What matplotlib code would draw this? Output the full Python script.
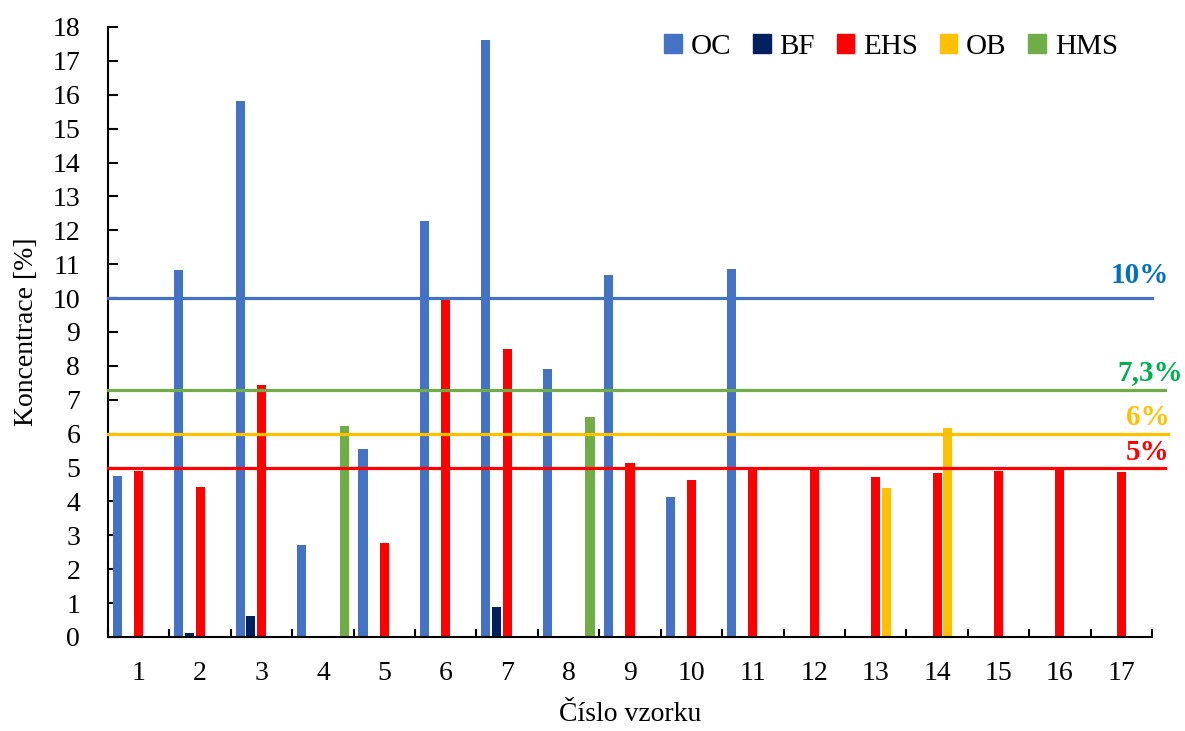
import numpy as np
import matplotlib
matplotlib.use("Agg")
import matplotlib.pyplot as plt
from matplotlib.patches import Patch
import matplotlib.transforms as mtransforms

plt.rcParams['font.family'] = ['Liberation Serif', 'DejaVu Serif']

# sample numbers on x axis
vzorky = list(range(1, 18))

# concentrations [%] per sample, 0 = not present
oc = [4.75, 10.83, 15.81, 2.71, 5.54, 12.27, 17.63, 7.90, 10.67, 4.12, 10.85, 0, 0, 0, 0, 0, 0]
bf = [0, 0.11, 0.63, 0, 0, 0, 0.88, 0, 0, 0, 0, 0, 0, 0, 0, 0, 0]
ehs = [4.90, 4.43, 7.43, 0, 2.78, 9.95, 8.50, 0, 5.12, 4.62, 4.94, 5.00, 4.71, 4.84, 4.90, 5.00, 4.86]
ob = [0, 0, 0, 0, 0, 0, 0, 0, 0, 0, 0, 0, 4.39, 6.17, 0, 0, 0]
hms = [0, 0, 0, 6.24, 0, 0, 0, 6.49, 0, 0, 0, 0, 0, 0, 0, 0, 0]

series_names = ['OC', 'BF', 'EHS', 'OB', 'HMS']
series_colors = ['#4472C4', '#002060', '#FF0000', '#FFC000', '#70AD47']

# limit values
limity = [10, 7.3, 6, 5]
limity_text = ['10%', '7,3%', '6%', '5%']
limity_line_colors = ['#4472C4', '#70AD47', '#FFC000', '#FF0000']
limity_text_colors = ['#0070C0', '#00B050', '#FFC000', '#FF0000']

fig = plt.figure(figsize=(11.85, 7.31), dpi=100)
ax = fig.add_axes([0.0911, 0.1286, 0.8811, 0.8345])

x = np.array(vzorky, dtype=float)
slot = 0.174
bar_w = 0.148
for i, (vals, col) in enumerate(zip([oc, bf, ehs, ob, hms], series_colors)):
    ax.bar(x + (i - 2) * slot, vals, width=bar_w, color=col, zorder=2)

# horizontal limit lines with labels on the right
blend = mtransforms.blended_transform_factory(ax.transAxes, ax.transData)
line_ends = [1.0, 1.012, 1.015, 1.012]
text_x = [1.016, 1.03, 1.017, 1.017]
text_dy = [0.46, 0.28, 0.25, 0.22]
for val, lab, lc, tc, xe, tx, dy in zip(limity, limity_text, limity_line_colors,
                                         limity_text_colors, line_ends, text_x, text_dy):
    ax.axhline(val, xmin=0, xmax=xe, color=lc, lw=2.3, zorder=3, clip_on=False)
    ax.text(tx, val + dy, lab, transform=blend, ha='right', va='baseline',
            color=tc, fontsize=21, fontweight='bold')

ax.set_xlim(0.5, 17.5)
ax.set_ylim(0, 18)
ax.set_yticks(range(0, 19))
ax.set_xticks(x)
ax.set_xticklabels([str(v) for v in vzorky])
ax.set_xticks(np.arange(0.5, 18, 1), minor=True)

ax.tick_params(axis='x', which='major', length=0, pad=17, labelsize=20)
ax.tick_params(axis='x', which='minor', direction='in', length=6, width=1.5)
ax.tick_params(axis='y', direction='in', length=7, width=1.5, pad=20, labelsize=20)

for s in ['top', 'right']:
    ax.spines[s].set_visible(False)
for s in ['left', 'bottom']:
    ax.spines[s].set_linewidth(1.5)

ax.set_xlabel('Číslo vzorku', fontsize=20, labelpad=12)
ax.set_ylabel('Koncentrace [%]', fontsize=20, labelpad=10)

handles = [Patch(color=c, label=n) for n, c in zip(series_names, series_colors)]
ax.legend(handles=handles, ncol=5, loc='center', bbox_to_anchor=(0.752, 0.9357),
          bbox_transform=fig.transFigure, frameon=False, fontsize=21,
          handlelength=0.6, handleheight=0.6, handletextpad=0.3, columnspacing=0.75)

fig.savefig('out.png', dpi=100)
